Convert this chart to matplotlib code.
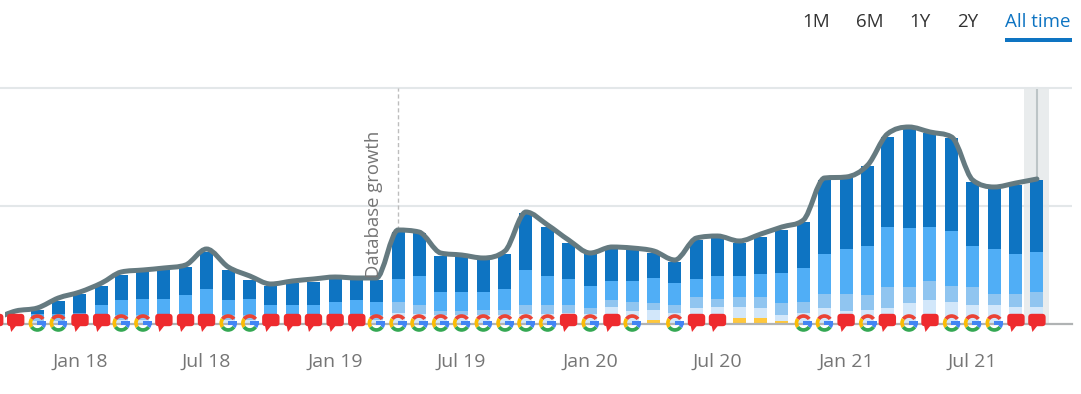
import matplotlib
matplotlib.use("Agg")
import matplotlib.pyplot as plt
import matplotlib.dates as mdates
from matplotlib.patches import Wedge, Rectangle, FancyBboxPatch, Polygon, PathPatch
from matplotlib.path import Path
from matplotlib.transforms import IdentityTransform, Bbox
import numpy as np
import pandas as pd

WIDTH = 1081
HEIGHT = 394
BASE_Y = 324  # pixel row of the zero line

months = pd.date_range("2017-09-01", "2021-10-01", freq="MS")

# stacked series, top to bottom
dark = [2, 3, 4, 13, 19, 19, 25, 27, 29, 28, 37, 30, 19, 19, 22, 23, 23, 20, 22, 47, 43, 36, 35, 33, 35,
        57, 49, 36, 33, 32, 31, 25, 21, 39, 38, 33, 37, 43, 46, 74, 72, 80, 90, 100, 94, 93, 64, 61, 69, 72]
mid = [2, 3, 4, 4, 5, 11, 15, 16, 16, 20, 25, 15, 16, 11, 11, 11, 13, 15, 13, 23, 29, 19, 19, 18, 21,
       35, 29, 26, 22, 19, 21, 25, 22, 18, 23, 21, 23, 30, 34, 40, 45, 49, 60, 59, 54, 55, 41, 45, 40, 40]
light = [1, 2, 3, 3, 3, 4, 5, 5, 5, 5, 5, 5, 5, 4, 4, 4, 5, 5, 5, 11, 9, 4, 4, 5, 5,
         9, 9, 8, 6, 7, 9, 7, 8, 11, 8, 10, 11, 12, 11, 14, 17, 15, 21, 16, 19, 16, 18, 11, 13, 15]
pale = [1, 2, 3, 3, 3, 4, 4, 4, 4, 4, 5, 4, 4, 4, 4, 4, 4, 4, 4, 11, 10, 9, 9, 9, 9,
        10, 10, 11, 10, 17, 13, 10, 11, 16, 17, 11, 10, 6, 11, 16, 13, 14, 16, 21, 24, 22, 19, 19, 17, 17]
yellow = [0, 0, 0, 0, 0, 0, 0, 0, 0, 0, 0, 0, 0, 0, 0, 0, 0, 0, 0, 0, 0, 0, 0, 0, 0,
          0, 0, 0, 0, 0, 0, 4, 0, 0, 0, 6, 6, 3, 0, 0, 0, 0, 0, 0, 0, 0, 0, 0, 0, 0]
trend = [5, 13, 16, 26, 32, 41, 52, 54, 56, 59, 75, 57, 48, 40, 43, 45, 47, 46, 46, 94, 92, 71, 69, 66, 73,
         112, 99, 84, 71, 77, 76, 73, 64, 86, 88, 83, 90, 97, 104, 146, 147, 159, 190, 197, 192, 187, 144, 137, 141, 145]

# g = google update, r = note, - = nothing
icons = list("rrggrrggrrrggrrrrrggggggggg" + "rgrg-grr---ggrgrgrgggrr")
icons = icons[:50]

tick_dates = ["2018-01-01", "2018-07-01", "2019-01-01", "2019-07-01", "2020-01-01", "2020-07-01", "2021-01-01", "2021-07-01"]
tick_labels = ["Jan 18", "Jul 18", "Jan 19", "Jul 19", "Jan 20", "Jul 20", "Jan 21", "Jul 21"]
grid_values = [118, 236]
range_labels = ["1M", "6M", "1Y", "2Y", "All time"]
range_x = [802, 856, 909, 957, 1005]

DARK = "#0e74c2"
MID = "#50aef6"
LIGHT = "#90c5f0"
PALE = "#d2e7fa"
YELLOW = "#ffc83d"
LINE = "#657a80"
TEXT = "#757575"

PX_PER_DAY = 0.699
X0 = mdates.date2num(pd.Timestamp("2018-01-01")) - 80 / PX_PER_DAY


def smooth_path(x, y):
    # rounded curve through every point of the series, flat at local peaks
    x = np.asarray(x, dtype=float)
    y = np.asarray(y, dtype=float)
    d = np.diff(y) / np.diff(x)
    m = np.zeros(len(x))
    for i in range(1, len(x) - 1):
        if d[i - 1] * d[i] > 0:
            s = (y[i + 1] - y[i - 1]) / (x[i + 1] - x[i - 1])
            m[i] = np.sign(s) * min(abs(s), 2.5 * abs(d[i - 1]), 2.5 * abs(d[i]))
    m[0] = d[0]
    m[-1] = d[-1]
    verts = [(x[0], y[0])]
    codes = [Path.MOVETO]
    for i in range(len(x) - 1):
        h = (x[i + 1] - x[i]) / 3
        verts += [(x[i] + h, y[i] + m[i] * h), (x[i + 1] - h, y[i + 1] - m[i + 1] * h), (x[i + 1], y[i + 1])]
        codes += [Path.CURVE4, Path.CURVE4, Path.CURVE4]
    return Path(verts, codes)


def draw_google(fig, cx, cy):
    # cx, cy in display pixels
    r = 8.8
    w = 3.7
    t = IdentityTransform()
    cy = cy + 1
    arcs = [(35, 145, "#ea4335"), (145, 215, "#fbbc05"), (215, 325, "#34a853"), (325, 360, "#4285f4")]
    for a, b, c in arcs:
        fig.add_artist(Wedge((cx, cy), r, a, b, width=w, facecolor=c, edgecolor="none", transform=t, zorder=5))
    fig.add_artist(Rectangle((cx - 0.3, cy - 1.8), r + 0.3, 3.6, facecolor="#4285f4", edgecolor="none", transform=t, zorder=5))


def draw_note(fig, cx, cy):
    t = IdentityTransform()
    fig.add_artist(FancyBboxPatch((cx - 6.5, cy), 13, 8, boxstyle="round,pad=2.2,rounding_size=3.5",
                                  facecolor="#ee2b2e", edgecolor="none", transform=t, zorder=5))
    fig.add_artist(Polygon([(cx - 6, cy - 1), (cx + 1, cy - 1), (cx - 4.5, cy - 8)], closed=True,
                           facecolor="#ee2b2e", edgecolor="none", transform=t, zorder=5))


fig = plt.figure(figsize=(WIDTH / 100, HEIGHT / 100), dpi=100, facecolor="white")
ax = fig.add_axes([0, (HEIGHT - BASE_Y) / HEIGHT, 1072 / WIDTH, (BASE_Y - 60) / HEIGHT])
ax.set_facecolor("none")
ax.set_xlim(X0, X0 + 1072 / PX_PER_DAY)
ax.set_ylim(0, BASE_Y - 60)

x = mdates.date2num(months)
bar_w = 13 / PX_PER_DAY

# grey band and marker behind the last month
ax.axvspan(x[-1] - 13 / PX_PER_DAY, x[-1] + 12 / PX_PER_DAY, ymin=0, ymax=236 / (BASE_Y - 60), color="#e9eced", lw=0, zorder=0)
ax.plot([x[-1], x[-1]], [trend[-1], 236], color="#bcc4c6", lw=1.5, zorder=0.5)

ax.set_yticks(grid_values)
ax.set_yticklabels([])
ax.yaxis.grid(True, color="#e3e7e9", lw=1.5)
ax.set_axisbelow(True)
ax.tick_params(axis="y", length=0)
for s in ax.spines.values():
    s.set_visible(False)

bottom = np.zeros(len(x))
for vals, col in [(yellow, YELLOW), (pale, PALE), (light, LIGHT), (mid, MID), (dark, DARK)]:
    ax.bar(x, vals, width=bar_w, bottom=bottom, color=col, linewidth=0, zorder=2)
    bottom = bottom + np.array(vals)

# zero line
ax.axhline(0, color="#b0b3b4", lw=1.6, zorder=3, clip_on=False)

# database growth marker
db_x = mdates.date2num(pd.Timestamp("2019-04-01"))
ax.plot([db_x, db_x], [94, 236], color="#bdbdbd", lw=1, ls=(0, (3, 2)), zorder=1)
fig.text(374 / WIDTH, 1 - 204.5 / HEIGHT, "Database growth", rotation=90, ha="center", va="center",
         family="Open Sans", fontsize=13.3, color=TEXT)

# trend line
patch = PathPatch(smooth_path(x, trend), fill=False, edgecolor=LINE, lw=3.6, capstyle="round", zorder=4)
ax.add_patch(patch)
patch.set_clip_box(Bbox([[5, 0], [WIDTH, HEIGHT]]))

ax.set_xticks(mdates.date2num(pd.to_datetime(tick_dates)))
ax.set_xticklabels(tick_labels, family="Open Sans", fontsize=14, color=TEXT)
ax.tick_params(axis="x", length=0, pad=21)

# icons over the zero line
fig.canvas.draw()
for xi, kind in zip(x, icons):
    cx, cy = ax.transData.transform((xi, 0))
    if kind == "g":
        draw_google(fig, cx, cy)
    elif kind == "r":
        draw_note(fig, cx, cy)

# range selector
for label, lx in zip(range_labels, range_x):
    col = DARK if label == "All time" else "#333333"
    fig.text(lx / WIDTH, 1 - 22 / HEIGHT, label, ha="left", va="center", family="Open Sans", fontsize=13.5, color=col)
fig.add_artist(Rectangle((1005, HEIGHT - 42), 67, 4, facecolor=DARK, edgecolor="none", transform=IdentityTransform(), zorder=5))

fig.savefig("out.png", dpi=100)
